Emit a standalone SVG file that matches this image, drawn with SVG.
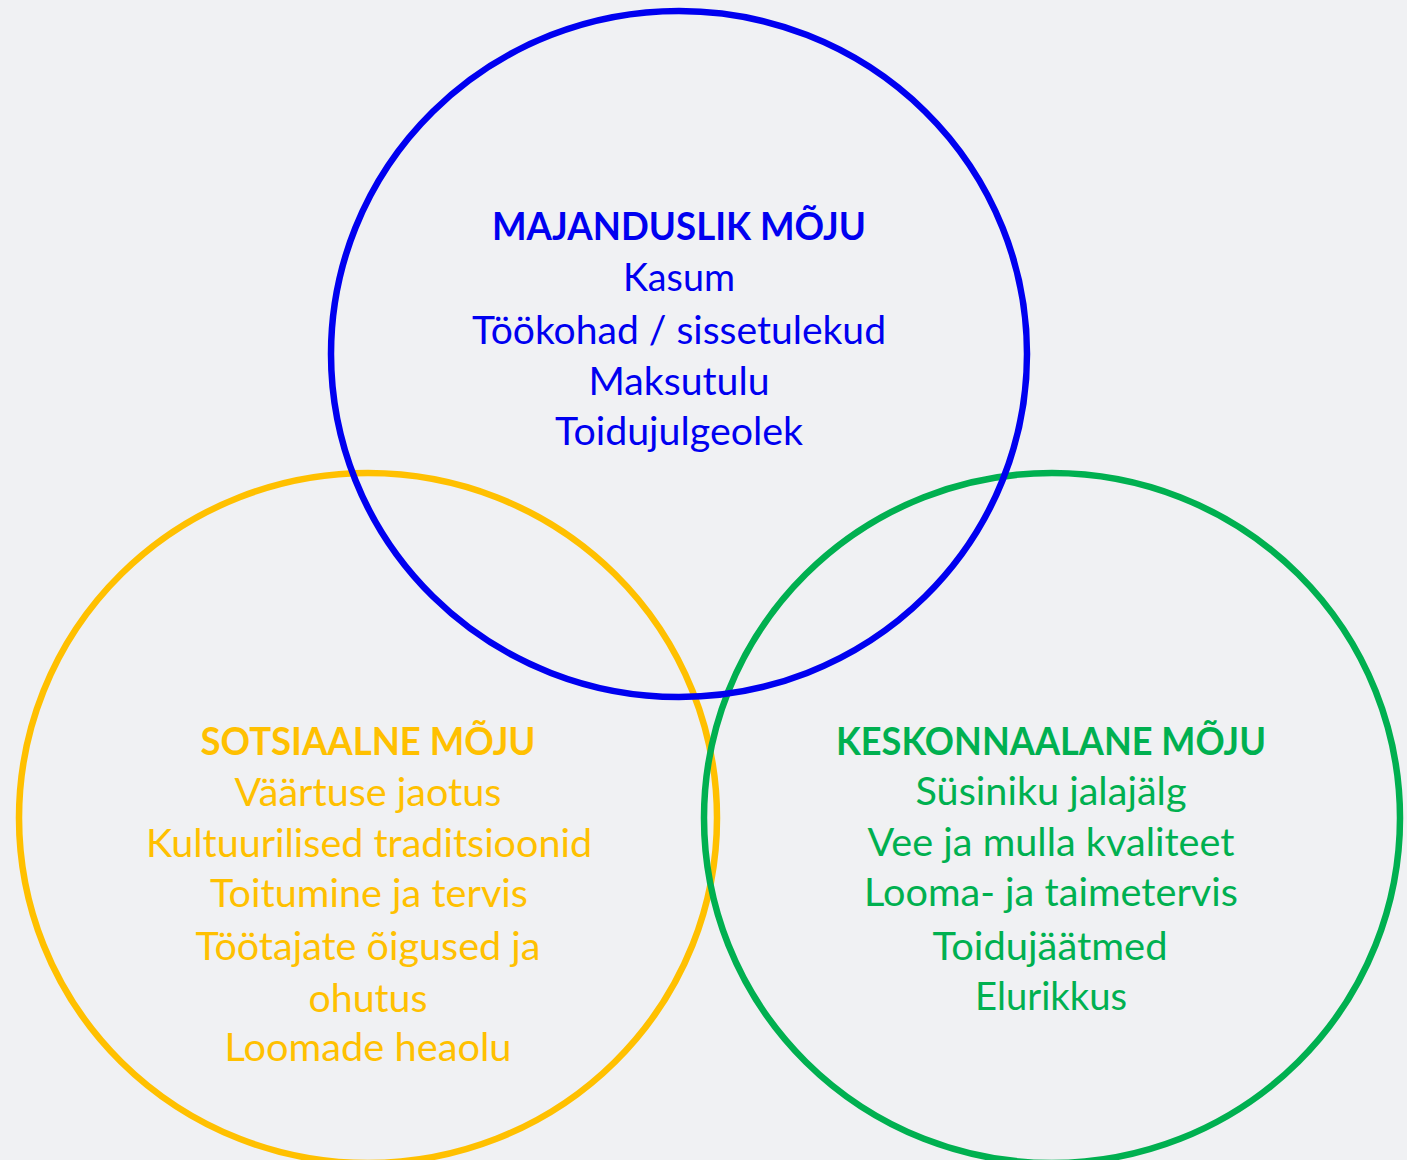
<svg xmlns="http://www.w3.org/2000/svg" width="1407" height="1160" viewBox="0 0 1407 1160">
<style>
.c{fill:none;stroke-width:6.5}
text{font-family:Lato,"Open Sans","Liberation Sans",sans-serif;font-size:39px;text-anchor:middle}
.t{font-weight:bold}
.b{fill:#0000F0}.y{fill:#FFC000}.g{fill:#00B050}
</style>
<rect width="1407" height="1160" fill="#F0F1F3"/>
<g id="sotsiaalne">
<ellipse class="c" cx="368" cy="818" rx="349" ry="345" stroke="#FFC000"/>
<text class="y t" x="368" y="755" textLength="335" lengthAdjust="spacingAndGlyphs">SOTSIAALNE MÕJU</text>
<text class="y" x="368" y="806" textLength="267" lengthAdjust="spacingAndGlyphs">Väärtuse jaotus</text>
<text class="y" x="369" y="857" textLength="446" lengthAdjust="spacingAndGlyphs">Kultuurilised traditsioonid</text>
<text class="y" x="369" y="907" textLength="318" lengthAdjust="spacingAndGlyphs">Toitumine ja tervis</text>
<text class="y" x="368" y="960" textLength="345" lengthAdjust="spacingAndGlyphs">Töötajate õigused ja</text>
<text class="y" x="368" y="1012" textLength="119" lengthAdjust="spacingAndGlyphs">ohutus</text>
<text class="y" x="368" y="1061" textLength="287" lengthAdjust="spacingAndGlyphs">Loomade heaolu</text>
</g>
<g id="keskonnaalane">
<ellipse class="c" cx="1052" cy="818" rx="348" ry="345" stroke="#00B050"/>
<text class="g t" x="1051" y="755" textLength="430" lengthAdjust="spacingAndGlyphs">KESKONNAALANE MÕJU</text>
<text class="g" x="1051" y="805" textLength="271" lengthAdjust="spacingAndGlyphs">Süsiniku jalajälg</text>
<text class="g" x="1051" y="856" textLength="367" lengthAdjust="spacingAndGlyphs">Vee ja mulla kvaliteet</text>
<text class="g" x="1051" y="906" textLength="374" lengthAdjust="spacingAndGlyphs">Looma- ja taimetervis</text>
<text class="g" x="1050" y="960" textLength="235" lengthAdjust="spacingAndGlyphs">Toidujäätmed</text>
<text class="g" x="1051" y="1010" textLength="152" lengthAdjust="spacingAndGlyphs">Elurikkus</text>
</g>
<g id="majanduslik">
<ellipse class="c" cx="679" cy="354" rx="348" ry="343" stroke="#0000F0"/>
<text class="b t" x="679" y="240" textLength="374" lengthAdjust="spacingAndGlyphs">MAJANDUSLIK MÕJU</text>
<text class="b" x="679" y="291" textLength="112" lengthAdjust="spacingAndGlyphs">Kasum</text>
<text class="b" x="679" y="344" textLength="414" lengthAdjust="spacingAndGlyphs">Töökohad / sissetulekud</text>
<text class="b" x="679" y="395" textLength="181" lengthAdjust="spacingAndGlyphs">Maksutulu</text>
<text class="b" x="679" y="445" textLength="248" lengthAdjust="spacingAndGlyphs">Toidujulgeolek</text>
</g>
<g id="connectors"/>
</svg>
